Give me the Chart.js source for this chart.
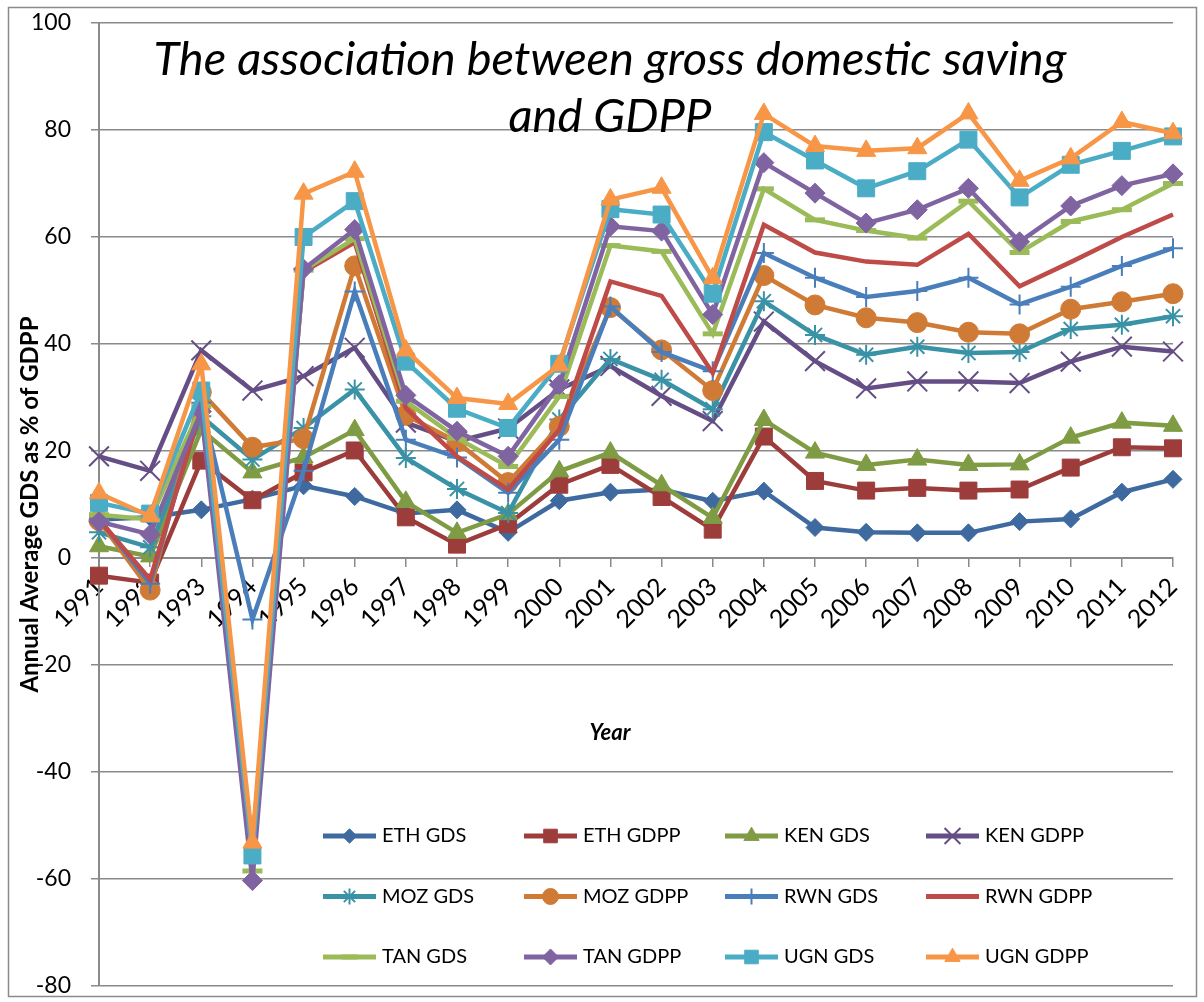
<!DOCTYPE html>
<html>
<head>
<meta charset="utf-8">
<script src="https://cdn.jsdelivr.net/npm/chart.js@4.4.0/dist/chart.umd.min.js"></script>
<style>
  body { margin: 0; background: #fff; }
  #wrap { width: 1204px; height: 1002px; }
</style>
</head>
<body>
<div id="wrap"><canvas id="gdsChart" width="1204" height="1002"></canvas></div>
<script>
const years = ["1991", "1992", "1993", "1994", "1995", "1996", "1997", "1998", "1999", "2000", "2001",
  "2002", "2003", "2004", "2005", "2006", "2007", "2008", "2009", "2010", "2011", "2012"];

const ethGds = [7.2, 7.6, 9.0, 11.0, 13.5, 11.5, 8.3, 9.0, 4.8, 10.7, 12.3, 12.8, 10.6, 12.5, 5.7, 4.8, 4.7, 4.7, 6.8, 7.3, 12.3, 14.7];
const ethGdpp = [-3.3, -4.6, 18.2, 10.8, 16.0, 20.1, 7.6, 2.5, 6.3, 13.7, 17.4, 11.4, 5.3, 22.7, 14.4, 12.6, 13.1, 12.6, 12.8, 16.9, 20.7, 20.5];
const kenGds = [2.2, 0.3, 24.0, 16.0, 18.8, 23.9, 10.5, 4.7, 8.2, 16.2, 19.7, 13.6, 7.5, 25.8, 19.7, 17.4, 18.4, 17.4, 17.5, 22.5, 25.3, 24.7];
const kenGdpp = [19.0, 16.3, 38.8, 31.3, 34.0, 39.3, 25.3, 21.8, 24.2, 31.5, 35.9, 30.3, 25.6, 44.2, 36.8, 31.7, 33.0, 33.0, 32.7, 36.7, 39.5, 38.6];
const mozGds = [4.8, 2.0, 26.5, 18.4, 24.3, 31.5, 18.7, 12.9, 8.4, 25.9, 37.2, 33.3, 27.8, 48.0, 41.7, 38.0, 39.5, 38.3, 38.5, 42.8, 43.6, 45.2];
const mozGdpp = [7.0, -6.0, 31.0, 20.7, 22.3, 54.6, 26.7, 21.7, 14.1, 24.6, 46.8, 38.9, 31.3, 52.8, 47.3, 44.9, 44.0, 42.2, 41.9, 46.5, 47.9, 49.4];
const rwnGds = [7.3, -4.8, 29.0, -11.5, 16.3, 49.8, 22.1, 18.8, 12.2, 22.1, 47.0, 38.5, 34.9, 57.0, 52.4, 48.8, 49.9, 52.4, 47.4, 50.7, 54.6, 57.9];
const rwnGdpp = [7.2, -4.0, 28.0, -53.5, 53.5, 59.0, 28.0, 19.0, 12.8, 24.0, 51.7, 49.0, 34.6, 62.3, 57.1, 55.4, 54.8, 60.6, 50.8, 55.3, 60.0, 64.2];
const tanGds = [8.1, 7.2, 28.3, -58.5, 53.8, 59.7, 29.3, 22.4, 17.1, 30.2, 58.4, 57.3, 41.9, 69.0, 63.2, 61.2, 59.8, 66.7, 57.1, 62.9, 65.1, 70.0];
const tanGdpp = [6.8, 4.4, 27.4, -60.3, 54.0, 61.4, 30.4, 23.7, 19.0, 32.4, 62.0, 61.1, 45.5, 73.9, 68.2, 62.6, 65.1, 69.1, 59.1, 65.8, 69.6, 71.8];
const ugnGds = [10.3, 8.3, 31.3, -55.6, 60.0, 66.7, 36.7, 27.9, 24.3, 36.3, 65.2, 64.2, 49.4, 79.6, 74.3, 69.1, 72.3, 78.2, 67.4, 73.5, 76.1, 78.8];
const ugnGdpp = [12.1, 7.8, 36.2, -53.2, 68.1, 72.2, 38.8, 29.9, 28.8, 36.0, 67.0, 69.2, 52.3, 83.0, 77.0, 76.1, 76.6, 83.1, 70.5, 74.7, 81.5, 79.4];

const yTicks = [-80, -60, -40, -20, 0, 20, 40, 60, 80, 100];
const titleLines = ["The association between gross domestic saving", "and GDPP"];
const yTitle = "Annual Average GDS as % of GDPP";
const xTitle = "Year";

const FONT = "Lato, 'Open Sans', sans-serif";

// label, data, colour, marker, marker radius, marker stroke
const series = [
  ["ETH GDS", ethGds, "#3E6AA0", "rectRot", 9, 1],
  ["ETH GDPP", ethGdpp, "#9D3D3B", "rect", 12, 1],
  ["KEN GDS", kenGds, "#7F9C44", "triangle", 11, 1],
  ["KEN GDPP", kenGdpp, "#654E85", "crossRot", 14, 2],
  ["MOZ GDS", mozGds, "#3A92A6", "star", 10, 2],
  ["MOZ GDPP", mozGdpp, "#D07B35", "circle", 10, 1],
  ["RWN GDS", rwnGds, "#4A7EBB", "cross", 10, 2],
  ["RWN GDPP", rwnGdpp, "#BE4B48", "circle", 0, 0],
  ["TAN GDS", tanGds, "#9BBB59", "line", 10, 5],
  ["TAN GDPP", tanGdpp, "#8064A2", "rectRot", 10, 1],
  ["UGN GDS", ugnGds, "#4BACC6", "rect", 12, 1],
  ["UGN GDPP", ugnGdpp, "#F79646", "triangle", 11, 1],
];

const datasets = series.map(([label, data, color, style, r, bw], i) => ({
  label: label,
  data: data,
  borderColor: color,
  backgroundColor: color,
  borderWidth: 4.5,
  tension: 0,
  pointStyle: style,
  pointRadius: r,
  pointHoverRadius: r,
  pointBackgroundColor: color,
  pointBorderColor: color,
  pointBorderWidth: bw,
  order: -i,
}));

// frame, title, axis title "Year" and the legend box inside the plot
const extras = {
  id: "extras",
  beforeDraw(chart) {
    const ctx = chart.ctx;
    ctx.save();
    ctx.fillStyle = "#fff";
    ctx.fillRect(0, 0, chart.width, chart.height);
    ctx.strokeStyle = "#8a8a8a";
    ctx.lineWidth = 1.5;
    ctx.strokeRect(8.5, 7.5, 1188, 989);
    ctx.restore();
  },
  afterDraw(chart) {
    const ctx = chart.ctx;
    ctx.save();
    ctx.fillStyle = "#000";
    ctx.textAlign = "center";
    ctx.textBaseline = "alphabetic";
    ctx.font = "italic 47px " + FONT;
    ctx.fillText(titleLines[0], 610, 75);
    ctx.fillText(titleLines[1], 610, 132);

    ctx.font = "italic bold 22px " + FONT;
    ctx.textBaseline = "middle";
    ctx.fillText(xTitle, 610, 733);

    chart.data.datasets.forEach((ds, i) => {
      const col = i % 4;
      const row = Math.floor(i / 4);
      const x = 323 + col * 201;
      const y = 836 + row * 60.5;
      ctx.strokeStyle = ds.borderColor;
      ctx.lineWidth = 5;
      ctx.beginPath();
      ctx.moveTo(x, y);
      ctx.lineTo(x + 53, y);
      ctx.stroke();
      if (ds.pointRadius > 0) {
        ctx.fillStyle = ds.pointBackgroundColor;
        ctx.strokeStyle = ds.pointBorderColor;
        ctx.lineWidth = ds.pointBorderWidth;
        Chart.helpers.drawPoint(ctx, {
          pointStyle: ds.pointStyle,
          radius: ds.pointRadius * 0.8,
          borderWidth: ds.pointBorderWidth,
          rotation: 0,
        }, x + 26.5, y);
      }
      ctx.fillStyle = "#000";
      ctx.font = "20px " + FONT;
      ctx.textAlign = "left";
      ctx.textBaseline = "middle";
      ctx.fillText(ds.label, x + 59, y);
    });
    ctx.restore();
  },
};

const ctx = document.getElementById("gdsChart").getContext("2d");
const gdsChart = new Chart(ctx, {
  type: "line",
  data: { labels: years, datasets: datasets },
  plugins: [extras],
  options: {
    responsive: false,
    animation: false,
    events: [],
    layout: { padding: { left: 8, right: 31, top: 23, bottom: 15 } },
    plugins: {
      legend: { display: false },
      tooltip: { enabled: false },
    },
    scales: {
      x: {
        type: "category",
        position: { y: 0 },
        offset: false,
        afterFit(scale) {
          scale.height = 0;
          scale.paddingLeft = 0;
          scale.paddingRight = 0;
        },
        grid: {
          drawOnChartArea: false,
          drawTicks: true,
          tickLength: 8,
          color: "#8a8a8a",
          lineWidth: 1.5,
        },
        border: { color: "#8a8a8a", width: 2 },
        ticks: {
          autoSkip: false,
          maxRotation: 45,
          minRotation: 45,
          padding: 6,
          color: "#000",
          font: { family: FONT, size: 25 },
        },
      },
      y: {
        min: yTicks[0],
        max: yTicks[yTicks.length - 1],
        afterBuildTicks(scale) {
          scale.ticks = yTicks.map((v) => ({ value: v }));
        },
        afterFit(scale) {
          scale.width = 91;
          scale.paddingTop = 0;
          scale.paddingBottom = 0;
        },
        grid: {
          color: "#8a8a8a",
          lineWidth: 1.5,
          tickLength: 8,
        },
        border: { color: "#8a8a8a", width: 2 },
        ticks: {
          padding: 20,
          color: "#000",
          font: { family: FONT, size: 23 },
        },
        title: {
          display: true,
          text: yTitle,
          color: "#000",
          padding: { top: 8, bottom: 0 },
          font: { family: FONT, size: 24, weight: "bold" },
        },
      },
    },
  },
});
</script>
</body>
</html>
